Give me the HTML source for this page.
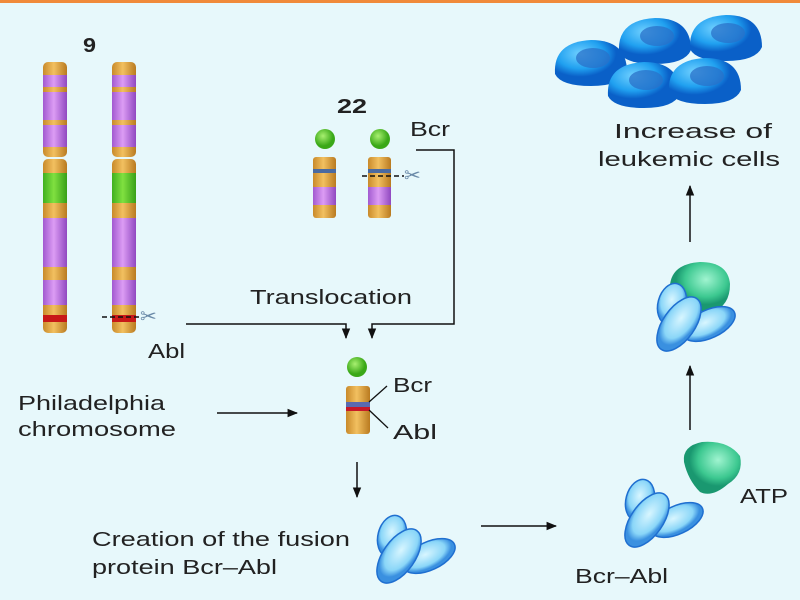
<!DOCTYPE html>
<html><head><meta charset="utf-8"><style>
html,body{margin:0;padding:0;background:#e7f8fb}
svg{display:block}
text{font-family:"Liberation Sans",Arial,sans-serif;fill:#222;font-size:20px}
</style></head><body>
<svg width="800" height="600" viewBox="0 0 800 600">
<defs>
<linearGradient id="or" x1="0" x2="1"><stop offset="0" stop-color="#c98a2a"/><stop offset=".45" stop-color="#f2c060"/><stop offset="1" stop-color="#b97a20"/></linearGradient>
<linearGradient id="pu" x1="0" x2="1"><stop offset="0" stop-color="#a25ad0"/><stop offset=".45" stop-color="#dc9cf4"/><stop offset="1" stop-color="#9048c0"/></linearGradient>
<linearGradient id="gr" x1="0" x2="1"><stop offset="0" stop-color="#40b020"/><stop offset=".45" stop-color="#80e040"/><stop offset="1" stop-color="#38a018"/></linearGradient>
<radialGradient id="ball" cx=".4" cy=".35"><stop offset="0" stop-color="#a8f070"/><stop offset="1" stop-color="#3aa818"/></radialGradient>
<radialGradient id="prot" cx=".45" cy=".4"><stop offset="0" stop-color="#d8f6ff"/><stop offset=".75" stop-color="#8ad6f8"/><stop offset="1" stop-color="#3a90e0"/></radialGradient>
<radialGradient id="atp" cx=".6" cy=".35"><stop offset="0" stop-color="#a0f4d0"/><stop offset=".7" stop-color="#3cc890"/><stop offset="1" stop-color="#1a9870"/></radialGradient>
<radialGradient id="cell" cx=".35" cy=".3"><stop offset="0" stop-color="#70d0ff"/><stop offset=".65" stop-color="#20a0f0"/><stop offset="1" stop-color="#0a60c8"/></radialGradient>
<g id="protein">
<ellipse cx="26" cy="24" rx="14" ry="21" transform="rotate(15 26 24)" fill="url(#prot)" stroke="#1f6fd0" stroke-width="1.5"/>
<ellipse cx="63" cy="44" rx="28" ry="14" transform="rotate(-25 63 44)" fill="url(#prot)" stroke="#1f6fd0" stroke-width="1.5"/>
<ellipse cx="33" cy="44" rx="16" ry="31" transform="rotate(35 33 44)" fill="url(#prot)" stroke="#1f6fd0" stroke-width="1.5"/>
</g>
<g id="cellg">
<path d="M-36,10 Q-38,-22 0,-24 Q36,-24 36,8 Q30,22 0,22 Q-30,22 -36,10z" fill="url(#cell)"/>
<ellipse cx="2" cy="-6" rx="17" ry="10" fill="#2a70c8" opacity=".75"/>
</g>
<marker id="ah" viewBox="0 0 10 10" refX="9" refY="5" markerWidth="7" markerHeight="7" orient="auto"><path d="M0,1 L10,5 L0,9 z" fill="#111"/></marker>
</defs>
<rect x="0" y="0" width="800" height="3" fill="#f08a3a"/>

<g id="c9">
<rect x="43" y="62" width="24" height="95" rx="5" fill="url(#or)"/>
<rect x="43" y="75" width="24" height="12" fill="url(#pu)"/>
<rect x="43" y="92" width="24" height="28" fill="url(#pu)"/>
<rect x="43" y="125" width="24" height="22" fill="url(#pu)"/>
<rect x="43" y="159" width="24" height="174" rx="5" fill="url(#or)"/>
<rect x="43" y="173" width="24" height="30" fill="url(#gr)"/>
<rect x="43" y="218" width="24" height="49" fill="url(#pu)"/>
<rect x="43" y="280" width="24" height="25" fill="url(#pu)"/>
<rect x="43" y="315" width="24" height="7" fill="#c81818"/>
</g>
<use href="#c9" x="69"/>
<text x="83" y="52" font-weight="bold" font-size="18" textLength="13" lengthAdjust="spacingAndGlyphs">9</text>
<line x1="102" y1="317" x2="140" y2="317" stroke="#111" stroke-width="1.5" stroke-dasharray="5,3"/>
<text x="140" y="323" font-size="22" style="fill:#6a8aa8">✂</text>
<text x="148" y="358" textLength="37" lengthAdjust="spacingAndGlyphs">Abl</text>

<g id="c22">
<circle cx="325" cy="139" r="10" fill="url(#ball)"/>
<rect x="313" y="157" width="23" height="61" rx="3" fill="url(#or)"/>
<rect x="313" y="169" width="23" height="4" fill="#4a6aa0"/>
<rect x="313" y="187" width="23" height="18" fill="url(#pu)"/>
</g>
<use href="#c22" x="55"/>
<text x="337" y="113" font-weight="bold" font-size="18" textLength="30" lengthAdjust="spacingAndGlyphs">22</text>
<line x1="362" y1="176" x2="404" y2="176" stroke="#111" stroke-width="1.5" stroke-dasharray="5,3"/>
<text x="404" y="182" font-size="22" style="fill:#6a8aa8">✂</text>
<text x="410" y="136" textLength="40" lengthAdjust="spacingAndGlyphs">Bcr</text>

<text x="250" y="304" textLength="162" lengthAdjust="spacingAndGlyphs">Translocation</text>
<polyline points="186,324 346,324 346,338" fill="none" stroke="#111" stroke-width="1.5" marker-end="url(#ah)"/>
<polyline points="416,150 454,150 454,324 372,324 372,338" fill="none" stroke="#111" stroke-width="1.5" marker-end="url(#ah)"/>

<circle cx="357" cy="367" r="10" fill="url(#ball)"/>
<rect x="346" y="386" width="24" height="48" rx="3" fill="url(#or)"/>
<rect x="346" y="402" width="24" height="5" fill="#5a6ab0"/>
<rect x="346" y="407" width="24" height="4" fill="#c81828"/>
<line x1="369" y1="402" x2="387" y2="386" stroke="#111" stroke-width="1.3"/>
<line x1="369" y1="410" x2="388" y2="428" stroke="#111" stroke-width="1.3"/>
<text x="393" y="392" textLength="39" lengthAdjust="spacingAndGlyphs">Bcr</text>
<text x="393" y="439" textLength="44" lengthAdjust="spacingAndGlyphs">Abl</text>

<text x="18" y="410" textLength="147" lengthAdjust="spacingAndGlyphs">Philadelphia</text>
<text x="18" y="436" textLength="158" lengthAdjust="spacingAndGlyphs">chromosome</text>
<line x1="217" y1="413" x2="297" y2="413" stroke="#111" stroke-width="1.5" marker-end="url(#ah)"/>
<line x1="357" y1="462" x2="357" y2="497" stroke="#111" stroke-width="1.5" marker-end="url(#ah)"/>

<text x="92" y="546" textLength="258" lengthAdjust="spacingAndGlyphs">Creation of the fusion</text>
<text x="92" y="574" textLength="185" lengthAdjust="spacingAndGlyphs">protein Bcr–Abl</text>
<use href="#protein" x="366" y="512"/>
<line x1="481" y1="526" x2="556" y2="526" stroke="#111" stroke-width="1.5" marker-end="url(#ah)"/>

<use href="#protein" x="614" y="476"/>
<path d="M684,462 Q682,446 702,442 Q728,440 740,456 Q744,474 728,484 Q712,498 700,492 Q688,480 684,462z" fill="url(#atp)"/>
<text x="740" y="503" textLength="48" lengthAdjust="spacingAndGlyphs">ATP</text>
<text x="575" y="583" textLength="93" lengthAdjust="spacingAndGlyphs">Bcr–Abl</text>
<line x1="690" y1="430" x2="690" y2="366" stroke="#111" stroke-width="1.5" marker-end="url(#ah)"/>
<path d="M670,285 Q672,264 700,262 Q728,262 730,284 Q730,306 712,312 Q682,312 670,285z" fill="url(#atp)"/>
<use href="#protein" x="646" y="280"/>
<line x1="690" y1="242" x2="690" y2="186" stroke="#111" stroke-width="1.5" marker-end="url(#ah)"/>

<use href="#cellg" x="591" y="64"/>
<use href="#cellg" x="655" y="42"/>
<use href="#cellg" x="726" y="39"/>
<use href="#cellg" x="644" y="86"/>
<use href="#cellg" x="705" y="82"/>
<text x="614" y="138" textLength="158" lengthAdjust="spacingAndGlyphs">Increase of</text>
<text x="598" y="166" textLength="182" lengthAdjust="spacingAndGlyphs">leukemic cells</text>
</svg>
</body></html>
